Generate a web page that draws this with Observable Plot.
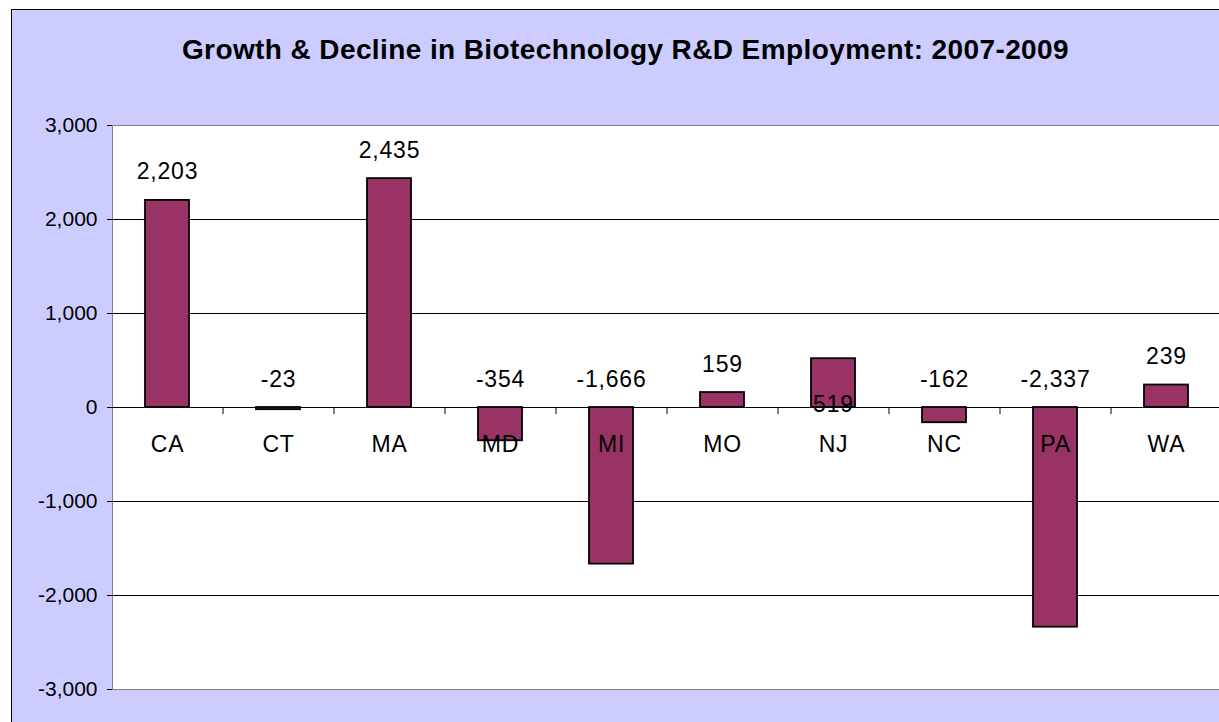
<!DOCTYPE html>
<html>
<head>
<meta charset="utf-8">
<script src="https://cdn.jsdelivr.net/npm/d3@7"></script>
<script src="https://cdn.jsdelivr.net/npm/@observablehq/plot@0.6"></script>
<style>
  html, body { margin: 0; padding: 0; background: #fff; width: 1219px; height: 722px; overflow: hidden; }
  #box { position: absolute; left: 11px; top: 9px; width: 1400px; height: 900px; background: #CCCCFF; border: 1px solid #000; }
  #title { position: absolute; left: 0; width: 1251px; top: 34px; text-align: center; font: bold 28px "Liberation Sans", Arial, sans-serif; letter-spacing: 0.4px; color: #000; white-space: nowrap; }
  #chart { position: absolute; left: 0; top: 0; }
  #chart .lbl, #chart .lbl text { letter-spacing: 0.8px; }
</style>
</head>
<body>
<div id="box"></div>
<div id="title">Growth &amp; Decline in Biotechnology R&amp;D Employment: 2007-2009</div>
<div id="chart"></div>
<script>
const states = ["CA", "CT", "MA", "MD", "MI", "MO", "NJ", "NC", "PA", "WA"];
const changes = [2203, -23, 2435, -354, -1666, 159, 519, -162, -2337, 239];
const yTicks = [-3000, -2000, -1000, 0, 1000, 2000, 3000];
const gridTicks = [-2000, -1000, 0, 1000, 2000];

const data = states.map((s, i) => ({state: s, value: changes[i]}));
const fmt = d => d.toLocaleString("en-US");
const font = '"Liberation Sans", Arial, sans-serif';

const W = 1222, ML = 112;
const step = (W - ML) / states.length;

const chart = Plot.plot({
  width: W,
  height: 722,
  marginLeft: ML,
  marginRight: 0,
  marginTop: 125,
  marginBottom: 33,
  style: {background: "transparent", maxWidth: "none", overflow: "visible", fontFamily: font},
  x: {domain: states, paddingInner: 0.6, paddingOuter: 0.3, axis: null},
  y: {domain: [-3000, 3000], ticks: yTicks, tickFormat: fmt, tickSize: 5, tickPadding: 10, label: null},
  marks: [
    Plot.frame({fill: "white", stroke: "#808080"}),
    Plot.ruleY(gridTicks, {stroke: "#000", strokeWidth: 1}),
    Plot.ruleX(states, {x: d => d, y1: 0, y2: -75, dx: step / 2, stroke: "#000"}),
    Plot.barY(data, {x: "state", y: "value", fill: "#993366", stroke: "#000", strokeWidth: 1.8}),
    Plot.text(data, {x: "state", y: 0, text: "state", lineAnchor: "bottom", dy: 44, fontSize: 23, fill: "#000", className: "lbl"}),
    Plot.text(data.filter(d => d.state !== "NJ"), {x: "state", y: d => Math.max(d.value, 0), text: d => fmt(d.value), lineAnchor: "bottom", dy: -21, fontSize: 23, fill: "#000", className: "lbl"}),
    Plot.text(data.filter(d => d.state === "NJ"), {x: "state", y: 0, text: d => fmt(d.value), lineAnchor: "bottom", dy: 4, fontSize: 23, fill: "#000", className: "lbl"}),
    Plot.axisY({ticks: yTicks, tickFormat: fmt, tickSize: 5, tickPadding: 10, fontSize: 21, stroke: "#000", fill: "#000", label: null})
  ]
});
document.getElementById("chart").appendChild(chart);
</script>
</body>
</html>
